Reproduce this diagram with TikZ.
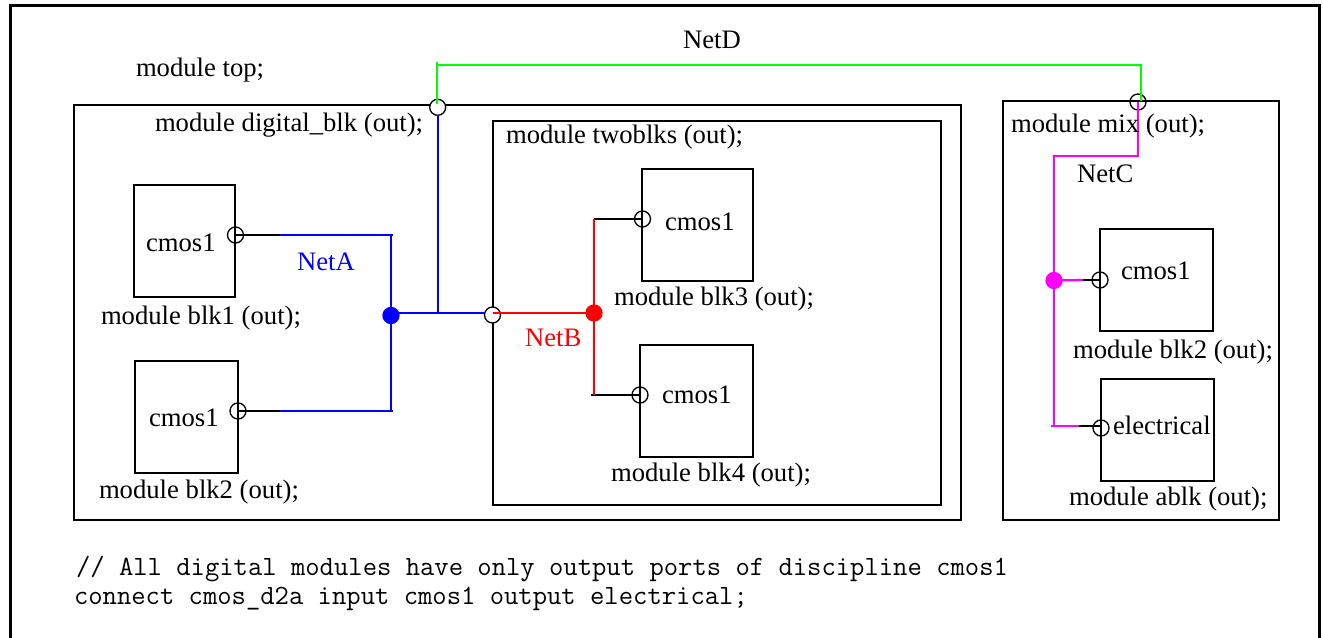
\documentclass[tikz,border=0pt]{standalone}
\usepackage{fontspec}
\setmainfont{Liberation Serif}
\definecolor{netgreen}{RGB}{0,255,0}
\definecolor{netmag}{RGB}{255,0,255}
\begin{document}
\begin{tikzpicture}[x=0.75pt,y=-0.75pt,
  lbl/.style={anchor=base west,inner sep=0pt,outer sep=0pt,font=\fontsize{20pt}{22pt}\selectfont},
  code/.style={anchor=base west,inner sep=0pt,outer sep=0pt,font=\ttfamily\fontsize{20.88pt}{22pt}\selectfont},
  box/.style={draw=black,line width=1.6pt,anchor=north west,inner sep=0pt,outer sep=0pt},
  port/.style={circle,draw=black,line width=1pt,minimum size=12pt,inner sep=0pt,outer sep=0pt},
  wport/.style={port,fill=white},
  dot/.style={circle,minimum size=13pt,inner sep=0pt,outer sep=0pt},
  wire/.style={line width=1.7pt},
  netline/.style={wire,draw=#1}]
\useasboundingbox (0,0) rectangle (1323,638);
\coordinate (fa) at (10.5,638); \coordinate (fb) at (10.5,6); \coordinate (fc) at (1319.5,6); \coordinate (fd) at (1319.5,638);
\draw[line width=2.25pt,line join=miter] (fa) -- (fb) -- (fc) -- (fd);
% boxes
\node[box,minimum width=887*0.75pt,minimum height=415*0.75pt] (digital) at (74,105) {};
\node[box,minimum width=448*0.75pt,minimum height=384*0.75pt] (twoblks) at (493,121) {};
\node[box,minimum width=276*0.75pt,minimum height=419*0.75pt] (mix) at (1003,101) {};
\node[box,minimum width=101*0.75pt,minimum height=112*0.75pt] (blk1) at (134,185) {};
\node[box,minimum width=103*0.75pt,minimum height=112*0.75pt] (blk2) at (135,361) {};
\node[box,minimum width=111*0.75pt,minimum height=112*0.75pt] (blk3) at (642,169) {};
\node[box,minimum width=113*0.75pt,minimum height=112*0.75pt] (blk4) at (640,345) {};
\node[box,minimum width=113*0.75pt,minimum height=102*0.75pt] (mblk2) at (1100,229) {};
\node[box,minimum width=113*0.75pt,minimum height=102*0.75pt] (ablk) at (1101,379) {};
% ports
\node[port] (p1) at (235.5,235) {};
\node[port] (p2) at (238,411) {};
\node[port] (p3) at (642.5,219) {};
\node[port] (p4) at (640,395) {};
\node[port] (p5) at (1100,280) {};
\node[port] (p6) at (1101,428) {};
\node[port] (pmix) at (1138,102) {};
\node[wport] (ptop) at (437.7,107.3) {};
\node[wport] (ptwo) at (492.5,315) {};
% junction coordinates
\node[dot,fill=blue] (ja) at (391,315.5) {};
\node[dot,fill=red] (jb) at (594,313) {};
\node[dot,fill=netmag] (jc) at (1054,280.5) {};
\coordinate (a1) at (280,235); \coordinate (a2) at (393,235); \coordinate (a3) at (391,235);
\coordinate (a4) at (280,411); \coordinate (a5) at (393,411); \coordinate (a6) at (391,411);
\coordinate (a7) at (391,313); \coordinate (a8) at (484.5,313); \coordinate (a9) at (438,313);
\coordinate (a10) at (438,115);
\coordinate (b1) at (594,219); \coordinate (b2) at (594,395); \coordinate (b3) at (591,395); \coordinate (b4) at (492.5,313);
\coordinate (d1) at (437,62); \coordinate (d2) at (437,65); \coordinate (d3) at (1141,65); \coordinate (d4) at (1141,101); \coordinate (d5) at (437,104);
\coordinate (c1) at (1138,102); \coordinate (c2) at (1138,156); \coordinate (c3) at (1054,156); \coordinate (c4) at (1054,426);
\coordinate (c5) at (1051,426); \coordinate (c6) at (1083,280); \coordinate (c7) at (1079,426);
% black stubs
\draw[wire] (p1.center) -- (a1);
\draw[wire] (p2.center) -- (a4);
\draw[wire] (p3.center) -- (b1);
\draw[wire] (p4.center) -- (b3);
\draw[wire] (p5.center) -- (c6);
\draw[wire] (p6.center |- c7) -- (c7);
% NetA
\draw[netline=blue] (a1) -- (a2);
\draw[netline=blue] (a3) -- (a6);
\draw[netline=blue] (a4) -- (a5);
\draw[netline=blue] (a7) -- (a8);
\draw[netline=blue] (a10) -- (a9);
% NetB
\draw[netline=red] (b4) -- (jb.center);
\draw[netline=red] (b1) -- (b2);
% NetD
\draw[netline=netgreen] (d1) -- (d5);
\draw[netline=netgreen] (d2) -- (d3) -- (d4);
% NetC
\draw[netline=netmag,line join=miter] (c1) -- (c2) -- (c3) -- (c4);
\draw[netline=netmag] (c5) -- (c7);
\draw[netline=netmag] (jc.center) -- (c6);
% labels
\node[lbl] (tnetd) at (683,49) {NetD};
\node[lbl] (ttop) at (136,77) {module top;};
\node[lbl] (tdig) at (155,132) {module digital\_blk (out);};
\node[lbl] (ttwo) at (506,144) {module twoblks (out);};
\node[lbl] (tc1) at (146,251) {cmos1};
\node[lbl,text=blue] (tneta) at (297,270) {NetA};
\node[lbl] (tb1) at (101,324) {module blk1 (out);};
\node[lbl] (tc2) at (149,426) {cmos1};
\node[lbl] (tb2) at (99,498) {module blk2 (out);};
\node[lbl] (tc3) at (665,230) {cmos1};
\node[lbl] (tb3) at (614,305) {module blk3 (out);};
\node[lbl,text=red] (tnetb) at (525,346) {NetB};
\node[lbl] (tc4) at (662,403) {cmos1};
\node[lbl] (tb4) at (611,481) {module blk4 (out);};
\node[lbl] (tmix) at (1011,133) {module mix (out);};
\node[lbl] (tnetc) at (1077,182) {NetC};
\node[lbl] (tc5) at (1121,279) {cmos1};
\node[lbl] (tb5) at (1073,358) {module blk2 (out);};
\node[lbl] (telec) at (1113,434) {electrical};
\node[lbl] (tb6) at (1069,505) {module ablk (out);};
\node[code] (tl1) at (76,575) {// All digital modules have only output ports of discipline cmos1};
\node[code] (tl2) at (74,604) {connect cmos\_d2a input cmos1 output electrical;};
\end{tikzpicture}
\end{document}
